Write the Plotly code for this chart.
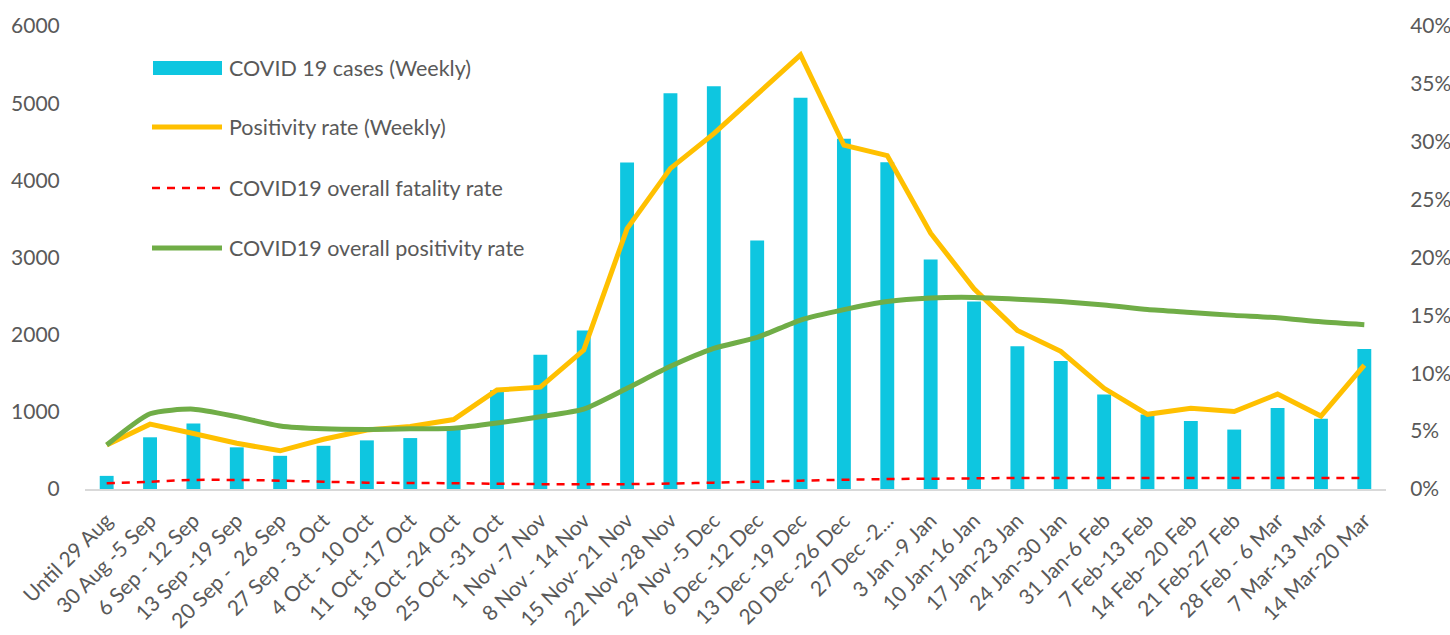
import plotly.graph_objects as go

weeks = ["Until 29 Aug", "30 Aug -5 Sep", "6 Sep - 12 Sep", "13 Sep -19 Sep", "20 Sep -  26 Sep",
         "27 Sep - 3 Oct", "4 Oct - 10 Oct", "11 Oct -17 Oct", "18 Oct -24 Oct", "25 Oct -31 Oct",
         "1 Nov -7 Nov", "8 Nov - 14 Nov", "15 Nov- 21 Nov", "22 Nov -28 Nov", "29 Nov -5 Dec",
         "6 Dec -12 Dec", "13 Dec -19 Dec", "20 Dec -26 Dec", "27 Dec -2...", "3 Jan -9 Jan",
         "10 Jan-16 Jan", "17 Jan-23 Jan", "24 Jan-30 Jan", "31 Jan-6 Feb", "7 Feb-13 Feb",
         "14 Feb- 20 Feb", "21 Feb-27 Feb", "28 Feb - 6 Mar", "7 Mar-13 Mar", "14 Mar-20 Mar"]

cases_weekly = [170, 670, 850, 540, 430, 560, 630, 660, 780, 1280,
                1740, 2055, 4230, 5130, 5220, 3220, 5070, 4540, 4235, 2975,
                2430, 1850, 1660, 1225, 965, 880, 770, 1050, 910, 1815]

positivity_weekly = [0.038, 0.056, 0.048, 0.0395, 0.033, 0.043, 0.051, 0.054, 0.060, 0.0855,
                     0.088, 0.120, 0.225, 0.277, 0.307, 0.341, 0.375, 0.297, 0.288, 0.221,
                     0.173, 0.137, 0.119, 0.087, 0.0645, 0.0697, 0.067, 0.082, 0.063, 0.107]

fatality_overall = [0.005, 0.0063, 0.0078, 0.0078, 0.0072, 0.0063, 0.0055, 0.0052, 0.005, 0.0045,
                    0.0042, 0.0042, 0.0042, 0.0047, 0.0055, 0.0063, 0.0072, 0.008, 0.0086, 0.0089,
                    0.0092, 0.0095, 0.0095, 0.0095, 0.0095, 0.0095, 0.0095, 0.0095, 0.0095, 0.0095]

positivity_overall = [0.038, 0.065, 0.069, 0.0625, 0.0545, 0.052, 0.0515, 0.052, 0.0525, 0.057,
                      0.0625, 0.069, 0.087, 0.106, 0.1215, 0.131, 0.146, 0.155, 0.162, 0.165,
                      0.1655, 0.164, 0.162, 0.159, 0.155, 0.1525, 0.150, 0.148, 0.1445, 0.142]

legend_labels = ["COVID 19 cases (Weekly)", "Positivity rate (Weekly)",
                 "COVID19 overall fatality rate", "COVID19 overall positivity rate"]

CYAN = "#0EC6E0"
YELLOW = "#FFC000"
RED = "#FF0000"
GREEN = "#70AD47"
TEXT = "#595959"
FONT = "Lato"

W, H = 1450, 635
L, R, T, B = 85, 64, 26, 146
PW, PH = W - L - R, H - T - B


def px(x):
    return (x - L) / PW


def py(y):
    return (H - B - y) / PH


fig = go.Figure()
fig.add_trace(go.Bar(x=weeks, y=cases_weekly, marker_color=CYAN, marker_line_width=0,
                     name=legend_labels[0], yaxis="y"))
fig.add_trace(go.Scatter(x=weeks, y=positivity_weekly, mode="lines", name=legend_labels[1],
                         line=dict(color=YELLOW, width=5), yaxis="y2"))
fig.add_trace(go.Scatter(x=weeks, y=fatality_overall, mode="lines", name=legend_labels[2],
                         line=dict(color=RED, width=2.5, dash="8px,7px", shape="spline"), yaxis="y2"))
fig.add_trace(go.Scatter(x=weeks, y=positivity_overall, mode="lines", name=legend_labels[3],
                         line=dict(color=GREEN, width=5, shape="spline", smoothing=0.6), yaxis="y2"))

# manual legend (long swatches like the original)
shapes = []
annotations = []
rows_y = [68, 127, 188, 248]
shapes.append(dict(type="rect", xref="paper", yref="paper",
                   x0=px(153), x1=px(222), y0=py(75), y1=py(61),
                   fillcolor=CYAN, line=dict(width=0)))
shapes.append(dict(type="line", xref="paper", yref="paper",
                   x0=px(152), x1=px(222), y0=py(rows_y[1]), y1=py(rows_y[1]),
                   line=dict(color=YELLOW, width=5)))
shapes.append(dict(type="line", xref="paper", yref="paper",
                   x0=px(152), x1=px(221), y0=py(rows_y[2]), y1=py(rows_y[2]),
                   line=dict(color=RED, width=2.5, dash="8px,7px")))
shapes.append(dict(type="line", xref="paper", yref="paper",
                   x0=px(152), x1=px(222), y0=py(rows_y[3]), y1=py(rows_y[3]),
                   line=dict(color=GREEN, width=5)))
for lab, yy in zip(legend_labels, rows_y):
    annotations.append(dict(text=lab, xref="paper", yref="paper", x=px(227), y=py(yy),
                            xanchor="left", yanchor="middle", showarrow=False,
                            font=dict(family=FONT, size=21.5, color=TEXT)))

fig.update_layout(
    width=W, height=H,
    margin=dict(l=L, r=R, t=T, b=B, autoexpand=False),
    paper_bgcolor="white", plot_bgcolor="white",
    showlegend=False,
    bargap=0.68,
    font=dict(family=FONT, size=21, color=TEXT),
    xaxis=dict(type="category", tickangle=-45, showgrid=False, showline=True, automargin=False,
               linecolor="#D9D9D9", linewidth=2, ticks="outside", ticklen=9,
               tickcolor="rgba(0,0,0,0)", tickfont=dict(family=FONT, size=21, color=TEXT),
               range=[-0.5, len(weeks) - 0.5]),
    yaxis=dict(range=[0, 6000], dtick=1000, showgrid=False, zeroline=False, showline=False,
               automargin=False,
               ticks="outside", ticklen=20, tickcolor="rgba(0,0,0,0)",
               tickfont=dict(family=FONT, size=21, color=TEXT)),
    yaxis2=dict(range=[0, 0.4], dtick=0.05, tickformat=".0%", overlaying="y", side="right",
                showgrid=False, zeroline=False, showline=False, automargin=False,
                ticks="outside", ticklen=19, tickcolor="rgba(0,0,0,0)",
                tickfont=dict(family=FONT, size=21, color=TEXT)),
    shapes=shapes,
    annotations=annotations,
)

fig.write_html("out.html")
